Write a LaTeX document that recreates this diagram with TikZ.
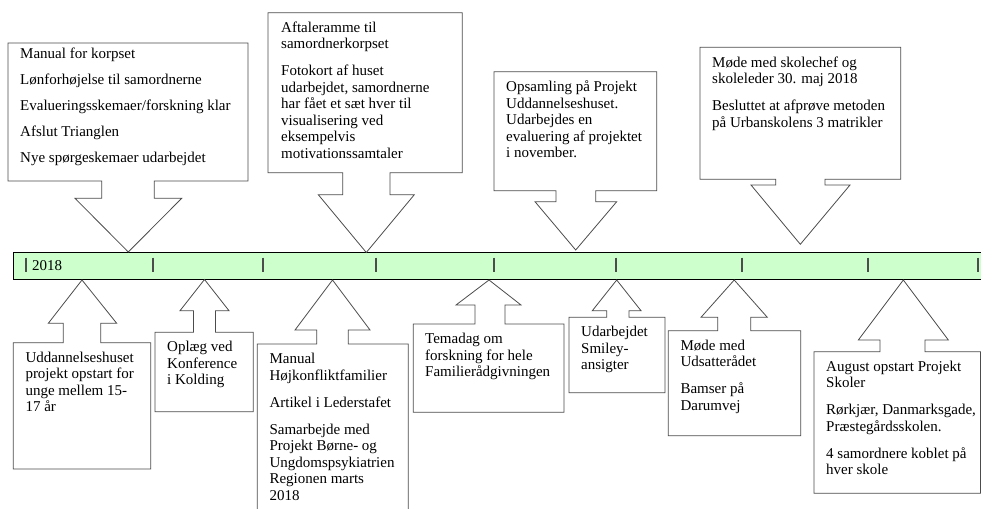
\documentclass[tikz,border=0pt]{standalone}
\usepackage{fontspec}
\setmainfont{Liberation Serif}
\usepackage{tikz}

\definecolor{barfill}{HTML}{CCFFCC}
\tikzset{
  callout/.style={draw=black!70, fill=white, line width=0.8pt},
  txt/.style={anchor=north west, inner sep=0pt, align=left,
              font=\fontsize{15}{16.5}\selectfont},
  tick/.style={draw=black!70, line width=1.2pt}
}

\begin{document}
\begin{tikzpicture}[x=1pt, y=-1pt]
\useasboundingbox (0,0) rectangle (981,508);

% time line
\fill[barfill] (13,252.5) rectangle (981,279.5);
\draw[line width=0.8pt] (981,252.5) -- (13,252.5) -- (13,279.5) -- (981,279.5);
\foreach \x in {26,153,263,376,494,616,742,868,978}
    \draw[tick] (\x,257.5) -- (\x,272);
\node[txt, anchor=west] (year) at (32,266) {2018};

% callouts above the line
\draw[callout] (8,43) -- (248,43) -- (248,181) -- (154.3,181) -- (154.3,198.3)
    -- (181.7,198.3) -- (128.3,252) -- (75,198.3) -- (101.7,198.3)
    -- (101.7,181) -- (8,181) -- cycle;
\node[txt] (manual) at (20,47.5) {Manual for korpset\\[9.5pt]
    Lønforhøjelse til samordnerne\\[9.5pt]
    Evalueringsskemaer/forskning klar\\[9.5pt]
    Afslut Trianglen\\[9.5pt]
    Nye spørgeskemaer udarbejdet};

\draw[callout] (268,12.7) -- (462.3,12.7) -- (462.3,172.7) -- (390,172.7) -- (390,194.7)
    -- (414.3,194.7) -- (366.3,252.5) -- (318.3,194.7) -- (342.7,194.7)
    -- (342.7,172.7) -- (268,172.7) -- cycle;
\node[txt] (aftale) at (281,21.7) {Aftaleramme til\\
    samordnerkorpset\\[10.5pt]
    Fotokort af huset\\
    udarbejdet, samordnerne\\
    har fået et sæt hver til\\
    visualisering ved\\
    eksempelvis\\
    motivationssamtaler};

\draw[callout] (494,71.7) -- (656.7,71.7) -- (656.7,190.7) -- (595.7,190.7) -- (595.7,201.7)
    -- (616.7,201.7) -- (575.7,250) -- (535,201.7) -- (556,201.7)
    -- (556,190.7) -- (494,190.7) -- cycle;
\node[txt] (opsamling) at (506,80.7) {Opsamling på Projekt\\
    Uddannelseshuset.\\
    Udarbejdes en\\
    evaluering af projektet\\
    i november.};

\draw[callout] (700,47.3) -- (900.7,47.3) -- (900.7,179.3) -- (825,179.3) -- (825,185)
    -- (850,185) -- (800.3,244.3) -- (751,185) -- (775.7,185)
    -- (775.7,179.3) -- (700,179.3) -- cycle;
\node[txt] (skolechef) at (712,56.3) {Møde med skolechef og\\
    skoleleder 30. maj 2018\\[10.5pt]
    Besluttet at afprøve metoden\\
    på Urbanskolens 3 matrikler};

% callouts below the line
\draw[callout] (13.3,469) -- (13.3,342.7) -- (63.3,342.7) -- (63.3,323.3) -- (48.3,323.3)
    -- (82,280) -- (116.7,323.3) -- (100.7,323.3) -- (100.7,342.7)
    -- (150.7,342.7) -- (150.7,469) -- cycle;
\node[txt] (uddannelse) at (25.3,351.7) {Uddannelseshuset\\
    projekt opstart for\\
    unge mellem 15-\\
    17 år};

\draw[callout] (155,411.7) -- (155,332.3) -- (193.5,332.3) -- (193.5,310.7) -- (180,310.7)
    -- (204.5,279.5) -- (229,310.7) -- (215.5,310.7) -- (215.5,332.3)
    -- (253.3,332.3) -- (253.3,411.7) -- cycle;
\node[txt] (oplaeg) at (167,341.3) {Oplæg ved\\
    Konference\\
    i Kolding};

\draw[callout] (257.3,515) -- (257.3,344) -- (316.7,344) -- (316.7,330) -- (295,330)
    -- (332.5,280) -- (370,330) -- (348.3,330) -- (348.3,344)
    -- (408.3,344) -- (408.3,515) -- cycle;
\node[txt] (hoejkonflikt) at (269.3,353) {Manual\\
    Højkonfliktfamilier\\[10.5pt]
    Artikel i Lederstafet\\[10.5pt]
    Samarbejde med\\
    Projekt Børne- og\\
    Ungdomspsykiatrien\\
    Regionen marts\\
    2018};

\draw[callout] (413.3,412.3) -- (413.3,324) -- (475,324) -- (475,305) -- (456,305)
    -- (489,280) -- (521,305) -- (505,305) -- (505,324)
    -- (564,324) -- (564,412.3) -- cycle;
\node[txt] (temadag) at (425,333) {Temadag om\\
    forskning for hele\\
    Familierådgivningen};

\draw[callout] (569,392.7) -- (569,317.3) -- (606.7,317.3) -- (606.7,310.7) -- (592.3,310.7)
    -- (616.7,280) -- (641,310.7) -- (629,310.7) -- (629,317.3)
    -- (665,317.3) -- (665,392.7) -- cycle;
\node[txt] (smiley) at (581,326.3) {Udarbejdet\\
    Smiley-\\
    ansigter};

\draw[callout] (668.3,435.7) -- (668.3,330.7) -- (717.7,330.7) -- (717.7,317.3) -- (701,317.3)
    -- (734.2,280) -- (767.3,317.3) -- (750.7,317.3) -- (750.7,330.7)
    -- (800.7,330.7) -- (800.7,435.7) -- cycle;
\node[txt] (udsatte) at (680.3,339.7) {Møde med\\
    Udsatterådet\\[10.5pt]
    Bamser på\\
    Darumvej};

\draw[callout] (814,493.3) -- (814,351.7) -- (880,351.7) -- (880,340) -- (858.3,340)
    -- (903.3,280) -- (948.3,340) -- (925,340) -- (925,351.7)
    -- (980.5,351.7) -- (980.5,493.3) -- cycle;
\node[txt] (august) at (826,360.7) {August opstart Projekt\\
    Skoler\\[10.5pt]
    Rørkjær, Danmarksgade,\\
    Præstegårdsskolen.\\[10.5pt]
    4 samordnere koblet på\\
    hver skole};
\end{tikzpicture}
\end{document}
